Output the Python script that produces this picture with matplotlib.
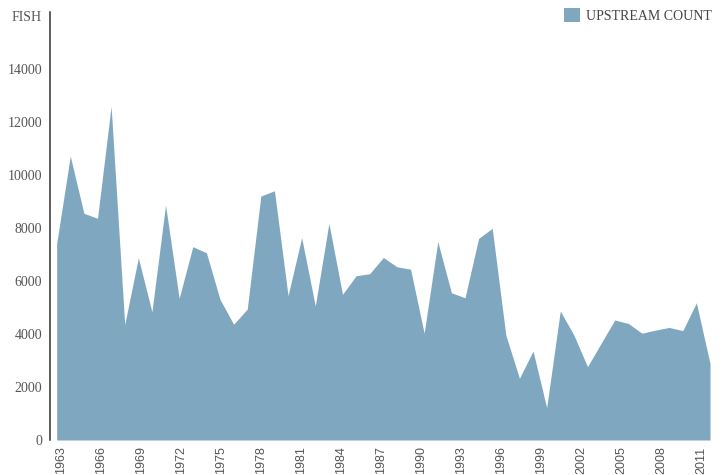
import matplotlib
matplotlib.use("Agg")
import matplotlib.pyplot as plt
from matplotlib.patches import Patch

years = list(range(1963, 2012))
upstream_count = [
    7420, 10720, 8560, 8370, 12600, 4360, 6880, 4840, 8870, 5350,
    7300, 7070, 5310, 4370, 4940, 9210, 9410, 5450, 7640, 5060,
    8180, 5500, 6200, 6280, 6890, 6540, 6450, 4030, 7490, 5560,
    5370, 7610, 7990, 3960, 2330, 3360, 1220, 4870, 3960, 2770,
    3650, 4530, 4400, 4030, 4150, 4250, 4130, 5180, 2890,
]
x_tick_years = list(range(1963, 2012, 3))
y_ticks = [0, 2000, 4000, 6000, 8000, 10000, 12000, 14000, 16000]
y_labels = ["0", "2000", "4000", "6000", "8000", "10000", "12000", "14000", "FISH"]
series_name = "UPSTREAM COUNT"

fill_color = "#7fa7c0"
text_color = "#555555"

fig = plt.figure(figsize=(7.27, 4.75), dpi=100)
ax = fig.add_axes([50 / 727, 35 / 475, 660 / 727, 428 / 475])

ax.fill_between(years, upstream_count, 0, color=fill_color, linewidth=0)
ax.set_xlim(1962.51, 2011)
ax.set_ylim(0, 16160)

for s in ["top", "right", "bottom"]:
    ax.spines[s].set_visible(False)
ax.spines["left"].set_color("#333333")
ax.spines["left"].set_linewidth(1.1)

ax.set_yticks(y_ticks)
ax.set_yticklabels(y_labels, family="Liberation Serif", fontsize=10, color=text_color)
ax.tick_params(axis="y", length=0, pad=5.8)
ax.set_xticks([])

# label axis for year ticks
ax2 = ax.twiny()
ax2.set_xlim(1962.15, 2011.68)
ax2.xaxis.set_ticks_position("bottom")
ax2.xaxis.set_label_position("bottom")
for s in ax2.spines.values():
    s.set_visible(False)
ax2.set_xticks(x_tick_years)
ax2.set_xticklabels([str(y) for y in x_tick_years], rotation=90,
                    family="Liberation Sans", fontsize=9, color=text_color)
ax2.tick_params(axis="x", length=0, pad=4.6)

handle = Patch(facecolor=fill_color, edgecolor="none")
leg = fig.legend([handle], [series_name], loc="upper right",
                 bbox_to_anchor=(712 / 727, 1 - 8 / 475), bbox_transform=fig.transFigure,
                 frameon=False, borderpad=0, borderaxespad=0,
                 handlelength=1.15, handleheight=1.15, handletextpad=0.45,
                 prop={"family": "Liberation Serif", "size": 10})
for t in leg.get_texts():
    t.set_color("#444444")

fig.savefig("out.png", dpi=100)
